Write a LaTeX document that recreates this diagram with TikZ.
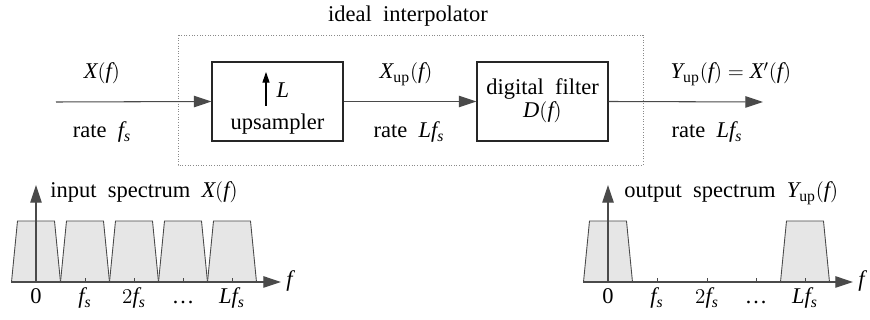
\documentclass[tikz,border=0pt]{standalone}
\usepackage{fontspec}
\setmainfont{Liberation Serif}
\DeclareSymbolFont{letters}{TU}{\rmdefault}{m}{it}
\usetikzlibrary{arrows.meta,positioning}
\definecolor{lineGray}{HTML}{4A4A4A}
\definecolor{specFill}{HTML}{E6E6E6}
\definecolor{boxGray}{HTML}{8A8A8A}

\begin{document}
\begin{tikzpicture}[x=0.02cm, y=-0.02cm, font=\fontsize{12.8}{15}\selectfont,
  block/.style={draw=black!85, line width=0.6pt, minimum width=2.62cm, minimum height=1.58cm, inner sep=0pt},
  signal/.style={-{Triangle[length=10pt,width=6.5pt]}, line width=0.6pt, draw=lineGray},
  band/.style={draw=lineGray, fill=specFill, line width=0.5pt},
  lbl/.style={anchor=base, inner sep=0pt},
]
\useasboundingbox (0,0) rectangle (870,320);

% ideal interpolator frame
\draw[densely dotted, draw=boxGray, line width=0.5pt] (178,35) rectangle (643,165);
\node[lbl] (title) at (408,22) {ideal~~interpolator};

% blocks
\node[block] (ups) at (277.5,101.5) {};
\draw[-{Triangle[length=6pt,width=4pt]}, line width=0.6pt] (266,106) -- (266,72);
\node[lbl] (upsL) at (283,98) {$L$};
\node[lbl] (upsTxt) at (277.5,130) {upsampler};

\node[block] (filt) at (542.5,101.5) {};
\node[lbl] (filtTxt) at (542.5,95) {digital~~filter};
\node[lbl] (filtD) at (542.5,118) {$D(f)$};

\coordinate (in) at (56,102);
\coordinate (out) at (763,102);
\draw[signal] (in) -- (ups.west);
\draw[signal] (ups.east) -- (filt.west);
\draw[signal] (filt.east) -- (out);

% signal labels
\node[lbl] (xin) at (102,79) {$X(f)$};
\node[lbl] (rin) at (102,138) {rate~~$f_s$};
\node[lbl] (xup) at (406,79) {$X_{\mathrm{up}}(f)$};
\node[lbl] (rup) at (409,138) {rate~~$Lf_s$};
\node[lbl] (yout) at (731,79) {$Y_{\mathrm{up}}(f) = X'(f)$};
\node[lbl] (rout) at (707,138) {rate~~$Lf_s$};

% input spectrum
\foreach \c in {36,85,134,183,232} {
  \draw[band] (\c-24.5,282) -- (\c-18.5,221) -- (\c+18.5,221) -- (\c+24.5,282) -- cycle;
}
\coordinate (inL) at (11,282);
\coordinate (inR) at (281,282);
\coordinate (inO) at (36,282);
\coordinate (inTop) at (36,185);
\draw[signal] (inL) -- (inR);
\draw[signal] (inO) -- (inTop);
\foreach \t in {85,134,183,232} {
  \draw[lineGray, line width=0.5pt] (\t,282) -- (\t,278);
}
\node[lbl, anchor=base west] (inF) at (286,287) {$f$};
\node[lbl, anchor=base west] (inName) at (50,198) {input~~spectrum~~$X(f)$};
\foreach \t/\s in {36/0,85/$f_s$,134/$2f_s$,183/\ldots,232/$Lf_s$} {
  \node[lbl] at (\t,304) {\s};
}

% output spectrum
\foreach \c in {608,805} {
  \draw[band] (\c-24.5,282) -- (\c-18.5,221) -- (\c+18.5,221) -- (\c+24.5,282) -- cycle;
}
\coordinate (outL) at (583,282);
\coordinate (outR) at (853,282);
\coordinate (outO) at (608,282);
\coordinate (outTop) at (608,185);
\draw[signal] (outL) -- (outR);
\draw[signal] (outO) -- (outTop);
\foreach \t in {657,707,756,805} {
  \draw[lineGray, line width=0.5pt] (\t,282) -- (\t,278);
}
\node[lbl, anchor=base west] (outF) at (858,287) {$f$};
\node[lbl, anchor=base west] (outName) at (624,198) {output~~spectrum~~$Y_{\mathrm{up}}(f)$};
\foreach \t/\s in {608/0,657/$f_s$,707/$2f_s$,756/\ldots,805/$Lf_s$} {
  \node[lbl] at (\t,304) {\s};
}
\end{tikzpicture}
\end{document}
